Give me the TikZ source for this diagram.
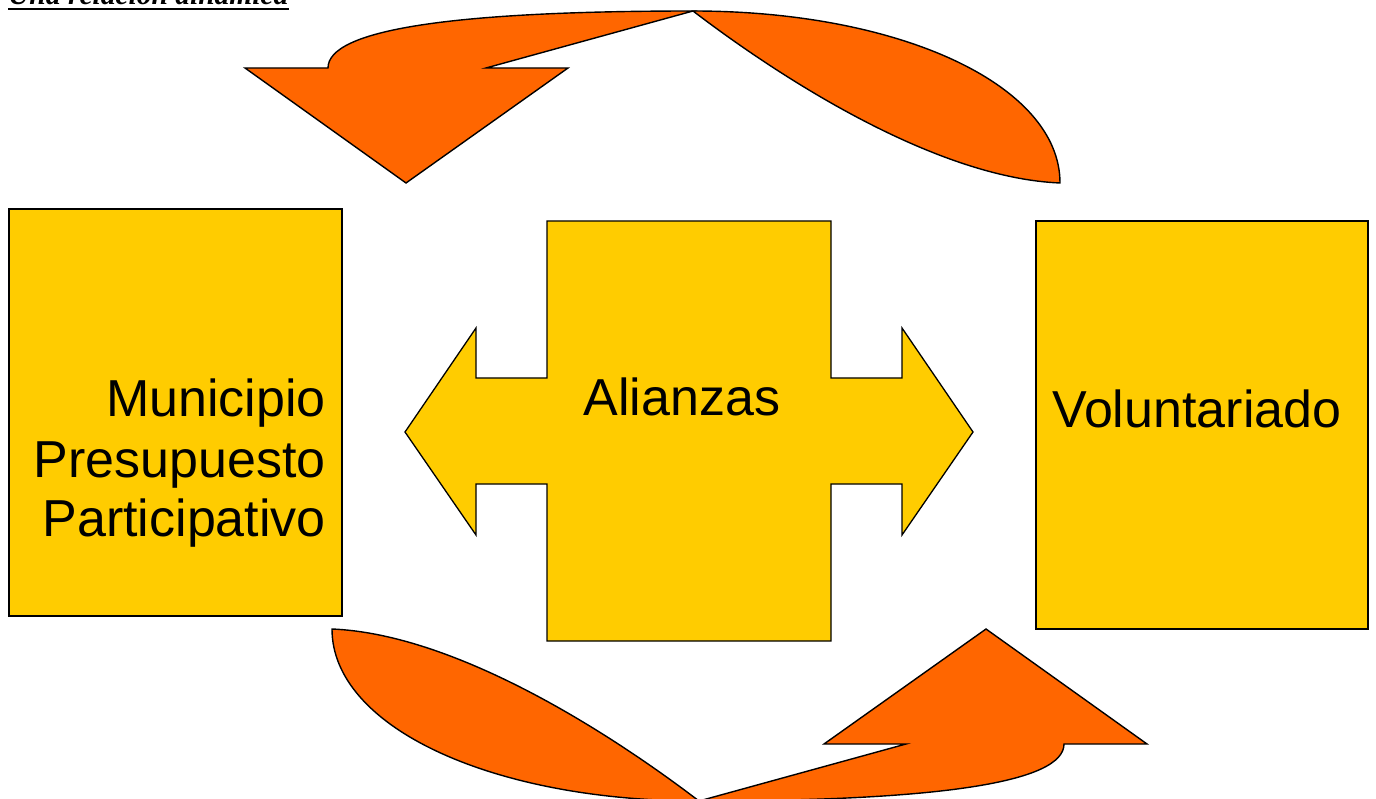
\documentclass[tikz,border=0pt]{standalone}
\usepackage{fontspec}
\setmainfont{Liberation Sans}
\newfontfamily\titlefont{Liberation Serif}
\usetikzlibrary{calc}
\definecolor{boxyellow}{HTML}{FFCC00}
\definecolor{arroworange}{HTML}{FF6600}
\tikzset{
  box/.style={draw=black, line width=1.3pt, fill=boxyellow, inner sep=0pt},
  bigtext/.style={font=\fontsize{52}{60}\selectfont, inner sep=0pt},
  curvedarrow/.style={draw=black, line width=1.4pt, fill=arroworange, line join=miter},
}
\begin{document}
\begin{tikzpicture}[x=1pt, y=-1pt]
\useasboundingbox (0,0) rectangle (1376,799);
% title
\node[inner sep=0pt, anchor=base west, font=\titlefont\fontsize{29.5}{34}\selectfont\bfseries\itshape] (title) at (8,5) {Una relación dinámica};
\draw[line width=1.6pt] ($(title.base west)+(0,4)$) -- ($(title.base east)+(0,4)$);

% side boxes
\node[box, minimum width=333pt, minimum height=407pt] (muni) at (175.5,412.5) {};
\node[box, minimum width=332pt, minimum height=408pt] (volu) at (1202,425) {};

% central double arrow with box
\draw[box] (547,221) -- (831,221) -- (831,378) -- (902,378) -- (902,328) -- (973,432)
  -- (902,535) -- (902,484) -- (831,484) -- (831,641) -- (547,641) -- (547,484)
  -- (476,484) -- (476,535) -- (405,432) -- (476,328) -- (476,378) -- (547,378) -- cycle;

% texts
\node[bigtext, anchor=base east] (t1) at (326,417) {Municipio};
\node[bigtext, anchor=base east] (t2) at (326,477) {Presupuesto};
\node[bigtext, anchor=base east] (t3) at (326,536) {Participativo};
\node[bigtext, anchor=base] (ali) at (682,415) {Alianzas};
\node[bigtext, anchor=base west] (vol) at (1052,427) {Voluntariado};

% top curved arrow
\filldraw[curvedarrow] (693,11) .. controls (450,11) and (328,30) .. (328,68)
  -- (245,68) -- (406,183) -- (568,68) -- (486,68) -- cycle;
\filldraw[curvedarrow] (693,11) .. controls (900,11) and (1060,85) .. (1060,183)
  .. controls (940,178) and (790,85) .. (693,11) -- cycle;

% bottom curved arrow (rotated copy)
\begin{scope}[rotate around={180:(696,406)}]
\filldraw[curvedarrow] (693,11) .. controls (450,11) and (328,30) .. (328,68)
  -- (245,68) -- (406,183) -- (568,68) -- (486,68) -- cycle;
\filldraw[curvedarrow] (693,11) .. controls (900,11) and (1060,85) .. (1060,183)
  .. controls (940,178) and (790,85) .. (693,11) -- cycle;
\end{scope}
\end{tikzpicture}
\end{document}
